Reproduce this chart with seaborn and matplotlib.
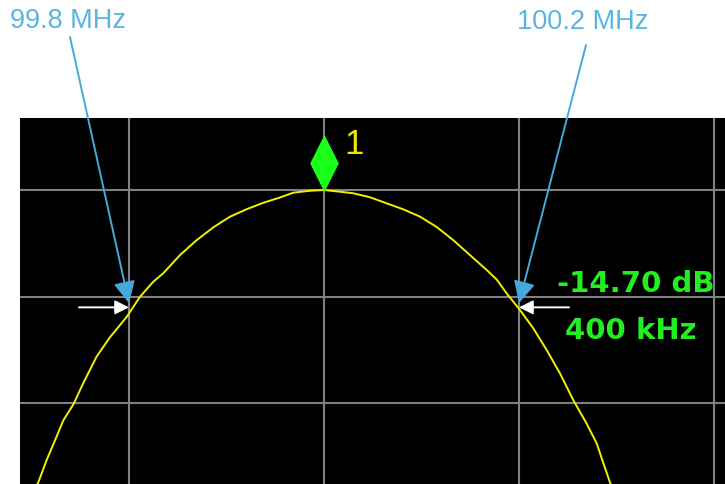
import matplotlib
matplotlib.use("Agg")
import matplotlib.pyplot as plt
import matplotlib.transforms as mtransforms
import pandas as pd
import seaborn as sns

# trace: frequency (MHz) and level (dB rel. peak)
freq_mhz = [99.690, 99.7070, 99.7156, 99.7258, 99.7326, 99.7429, 99.7531, 99.7669,
            99.7805, 99.7976, 99.8113, 99.8249, 99.8352, 99.8523, 99.8694, 99.8865,
            99.9036, 99.9207, 99.9377, 99.9549, 99.9685, 99.9856, 100.0,
            100.0164, 100.0301, 100.0472, 100.0643, 100.0813, 100.0985, 100.1156,
            100.1326, 100.1497, 100.1669, 100.1772, 100.1874, 100.2010, 100.2147,
            100.2284, 100.2421, 100.2557, 100.2694, 100.2797, 100.2865, 100.2933,
            100.305]
level_db = [-30.0, -27.4, -25.3, -23.1, -21.6, -20.1, -18.1, -15.6,
            -13.8, -11.9, -10.0, -8.6, -7.8, -6.1, -4.7, -3.5,
            -2.5, -1.8, -1.2, -0.7, -0.25, -0.07, 0.0,
            -0.16, -0.31, -0.68, -1.25, -1.81, -2.5, -3.47,
            -4.7, -6.1, -7.5, -8.4, -9.7, -11.25, -12.97,
            -15.0, -17.2, -19.7, -21.9, -23.75, -25.6, -27.4,
            -30.0]

marker_freq = 100.0
marker_level = 0.0
marker_name = "1"

bw_freqs = [99.8, 100.2]
bw_labels = ["99.8 MHz", "100.2 MHz"]
bw_level = -11.0
readout = ["-14.70 dB", "400 kHz"]

x_grid = [99.8, 100.0, 100.2, 100.4]
y_grid = [0, -10, -20]

sns.set_theme(style="dark", rc={"axes.facecolor": "black",
                                "figure.facecolor": "white"})
plt.rcParams["font.family"] = ["Liberation Sans", "DejaVu Sans"]

fig = plt.figure(figsize=(7.25, 4.84), dpi=100)
ax = fig.add_axes([20 / 725, 0.0, 705 / 725, 366 / 484])
ax.set_xlim(99.6882, 100.4113)
ax.set_ylim(-27.56, 6.75)

for x in x_grid:
    ax.axvline(x, color="#808080", lw=1.5, zorder=1)
for y in y_grid:
    ax.axhline(y, color="#808080", lw=1.5, zorder=1)
ax.set_xticks([])
ax.set_yticks([])
for s in ax.spines.values():
    s.set_visible(False)

df = pd.DataFrame({"freq": freq_mhz, "level": level_db})
sns.lineplot(data=df, x="freq", y="level", color="#f2f200", lw=1.4,
             ax=ax, zorder=3, sort=False)
ax.set(xlabel="", ylabel="")

# peak marker diamond, sitting on top of the peak
diamond = [(0, 1), (0.5, 0), (0, -1), (-0.5, 0), (0, 1)]
up = mtransforms.offset_copy(ax.transData, fig=fig, x=0, y=19.5, units="points")
ax.plot([marker_freq], [marker_level], marker=diamond, ms=39, color="#1aff1a",
        mec="#1aff1a", transform=up, zorder=5, clip_on=False)
ax.annotate(marker_name, (marker_freq, marker_level), xytext=(22, 33),
            textcoords="offset points", color="#f2e600", fontsize=25,
            ha="center", va="center", zorder=6)

# bandwidth arrows
starts = [(70, 447), (586, 439)]
sides = [-1, 1]
for f, lab, st, sd in zip(bw_freqs, bw_labels, starts, sides):
    ax.annotate("", xy=(f, bw_level + 0.4), xycoords="data",
                xytext=st, textcoords="figure pixels",
                arrowprops=dict(arrowstyle="-|>,head_length=1.1,head_width=0.55",
                                color="#45a9dc", lw=1.4, shrinkA=0, shrinkB=0),
                zorder=7, annotation_clip=False)
    ax.annotate("", xy=(f, bw_level), xycoords="data",
                xytext=(sd * 36, 0), textcoords="offset points",
                arrowprops=dict(arrowstyle="-|>,head_length=0.7,head_width=0.35",
                                color="white", lw=1.4, shrinkA=0, shrinkB=0),
                zorder=7)

fig.text(10 / 725, 1 - 21 / 484, bw_labels[0], color="#5ab4e2", fontsize=19.5,
         ha="left", va="center")
fig.text(517 / 725, 1 - 22 / 484, bw_labels[1], color="#5ab4e2", fontsize=19.5,
         ha="left", va="center")

fig.text(636 / 725, 1 - 284 / 484, readout[0], color="#22ee22", fontsize=21,
         fontweight="bold", ha="center", va="center", family="DejaVu Sans")
fig.text(631 / 725, 1 - 331 / 484, readout[1], color="#22ee22", fontsize=21,
         fontweight="bold", ha="center", va="center", family="DejaVu Sans")

fig.savefig("out.png", dpi=100)
